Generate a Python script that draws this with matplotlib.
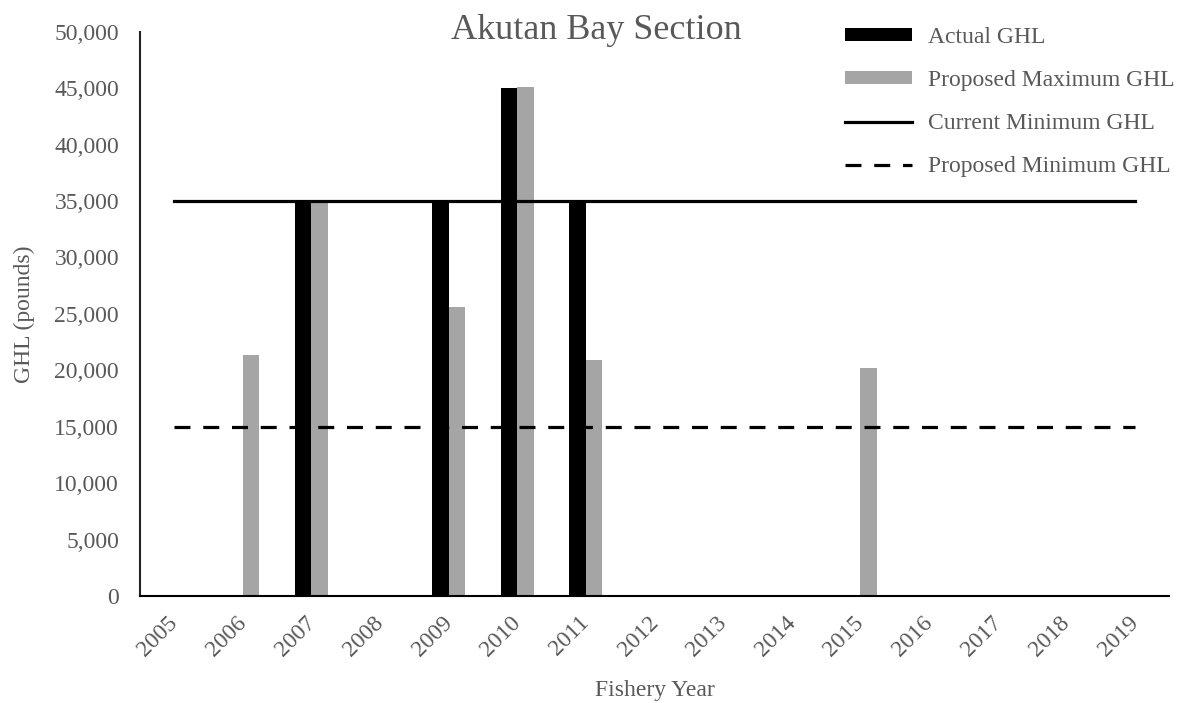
import numpy as np
import matplotlib.pyplot as plt
from matplotlib.ticker import FuncFormatter

plt.rcParams['font.family'] = ['Liberation Serif', 'DejaVu Serif']

# Fishery years and guideline harvest levels (pounds)
years = ['2005', '2006', '2007', '2008', '2009', '2010', '2011', '2012',
         '2013', '2014', '2015', '2016', '2017', '2018', '2019']
actual_ghl = [0, 0, 35000, 0, 35000, 45000, 35000, 0, 0, 0, 0, 0, 0, 0, 0]
proposed_max_ghl = [0, 21400, 35000, 0, 25600, 45100, 20900, 0, 0, 0, 20200, 0, 0, 0, 0]
current_min_ghl = [35000] * len(years)
proposed_min_ghl = [15000] * len(years)

text_grey = '#595959'
x = np.arange(len(years))
w = 0.24

fig = plt.figure(figsize=(11.84, 7.03), dpi=100)
ax = fig.add_axes([0.1182, 0.152, 0.8691, 0.803])

b1 = ax.bar(x - w / 2, actual_ghl, width=w, color='black', label='Actual GHL')
b2 = ax.bar(x + w / 2, proposed_max_ghl, width=w, color='#a5a5a5', label='Proposed Maximum GHL')
l1, = ax.plot(x, current_min_ghl, color='black', lw=2.3, label='Current Minimum GHL')
l2, = ax.plot(x, proposed_min_ghl, color='black', lw=2.3, dashes=(5, 4), label='Proposed Minimum GHL')

ax.set_xlim(-0.5, len(years) - 0.5)
ax.set_ylim(0, 50000)
ax.set_yticks(np.arange(0, 50001, 5000))
ax.yaxis.set_major_formatter(FuncFormatter(lambda v, p: f'{int(v):,}'))

# year labels drawn rotated under each category
ax.set_xticks(x)
ax.set_xticklabels([])
for xi, yr in zip(x, years):
    ax.annotate(yr, xy=(xi, 0), xycoords=('data', 'axes fraction'),
                xytext=(-5, -11.5), textcoords='offset points',
                rotation=45, ha='right', va='top', rotation_mode='anchor',
                fontsize=17, color=text_grey)

for side in ['top', 'right']:
    ax.spines[side].set_visible(False)
ax.spines['left'].set_color('#222222')
ax.spines['left'].set_linewidth(1.5)
ax.spines['bottom'].set_color('black')
ax.spines['bottom'].set_linewidth(1.5)
ax.tick_params(axis='both', length=0, labelsize=17, labelcolor=text_grey)
ax.tick_params(axis='y', pad=15)

ax.set_xlabel('Fishery Year', fontsize=17, color=text_grey, labelpad=57)
ax.set_ylabel('GHL (pounds)', fontsize=17, color=text_grey, labelpad=14)

fig.text(0.504, 0.957, 'Akutan Bay Section', fontsize=26, color=text_grey,
         ha='center', va='center')

leg = fig.legend([b1, b2, l1, l2],
                 ['Actual GHL', 'Proposed Maximum GHL', 'Current Minimum GHL', 'Proposed Minimum GHL'],
                 loc='upper left', bbox_to_anchor=(845 / 1184, 0.962), frameon=False,
                 borderpad=0, borderaxespad=0, fontsize=17, handlelength=2.84,
                 handleheight=0.5, labelspacing=0.94, handletextpad=0.68)
for t in leg.get_texts():
    t.set_color(text_grey)

fig.savefig('out.png', dpi=100)
